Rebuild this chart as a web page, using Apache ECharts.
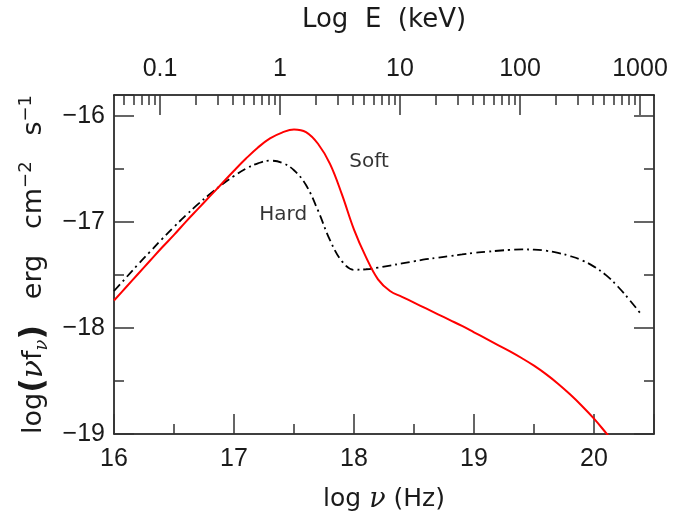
<!DOCTYPE html>
<html>
<head>
<meta charset="utf-8">
<script src="https://cdn.jsdelivr.net/npm/echarts@6/dist/echarts.min.js"></script>
<style>html,body{margin:0;padding:0;background:#fff}#c{width:690px;height:518px}</style>
</head>
<body>
<div id="c"></div>
<script>
// ---- data (log nu [Hz], log nu*f_nu) ----
const softNu = [16.0,16.1,16.2,16.3,16.4,16.5,16.6,16.7,16.8,16.9,17.0,17.1,17.2,17.3,17.4,17.5,17.6,17.7,17.8,17.9,18.0,18.1,18.2,18.3,18.4,18.5,18.6,18.7,18.8,18.9,19.0,19.1,19.2,19.3,19.4,19.5,19.6,19.7,19.8,19.9,20.0,20.1,20.2];
const softF  = [-17.74,-17.615,-17.49,-17.365,-17.24,-17.12,-16.995,-16.875,-16.755,-16.635,-16.515,-16.40,-16.295,-16.21,-16.155,-16.125,-16.15,-16.26,-16.45,-16.74,-17.07,-17.33,-17.54,-17.65,-17.705,-17.76,-17.815,-17.87,-17.925,-17.98,-18.04,-18.10,-18.16,-18.22,-18.285,-18.355,-18.435,-18.525,-18.625,-18.735,-18.855,-18.99,-19.13];
const hardNu = [16.0,16.1,16.2,16.3,16.4,16.5,16.6,16.7,16.8,16.9,17.0,17.1,17.2,17.3,17.4,17.5,17.6,17.7,17.8,17.9,18.0,18.1,18.2,18.3,18.4,18.5,18.6,18.7,18.8,18.9,19.0,19.1,19.2,19.3,19.4,19.5,19.6,19.7,19.8,19.9,20.0,20.1,20.2,20.3,20.4];
const hardF  = [-17.65,-17.525,-17.40,-17.28,-17.16,-17.045,-16.935,-16.83,-16.735,-16.645,-16.565,-16.495,-16.445,-16.42,-16.44,-16.51,-16.65,-16.89,-17.17,-17.37,-17.45,-17.445,-17.43,-17.41,-17.39,-17.37,-17.35,-17.335,-17.32,-17.305,-17.29,-17.28,-17.27,-17.262,-17.258,-17.26,-17.27,-17.29,-17.32,-17.36,-17.42,-17.50,-17.61,-17.74,-17.88];
const labelNames = ['Soft','Hard'];
const labelNu    = [18.125, 17.41];
const labelF     = [-16.43, -16.93];
const topTickEnergies = [0.1, 1, 10, 100, 1000];          // keV
const topTickLabels   = ['0.1', '1', '10', '100', '1000'];
const minorMultipliers = [2,3,4,5,6,7,8,9];
const LOG_KEV_TO_HZ = Math.log10(1.602176634e-16 / 6.62607015e-34); // 17.3836

const X_MIN = 16, X_MAX = 20.5, Y_MIN = -19, Y_MAX = -15.8;

const toNu = e => Math.log10(e) + LOG_KEV_TO_HZ;
const topMajor = topTickEnergies.map(toNu);
const topMinor = [];
[0.01, 0.1, 1, 10, 100, 1000].forEach(d => minorMultipliers.forEach(m => {
  const v = toNu(d * m); if (v > X_MIN && v < X_MAX) topMinor.push(v);
}));

const FONT = 'DejaVu Sans';
const NUMFONT = 'Liberation Sans';
const TXT = '#1a1a1a';
const lineC = '#000';

function baseX(extra) {
  return Object.assign({
    type: 'value', min: X_MIN, max: X_MAX,
    splitLine: {show: false},
    axisLine: {show: true, onZero: false, lineStyle: {color: lineC, width: 1.5}},
  }, extra);
}
function baseY(extra) {
  return Object.assign({
    type: 'value', min: Y_MIN, max: Y_MAX,
    splitLine: {show: false},
    axisLine: {show: true, onZero: false, lineStyle: {color: lineC, width: 1.5}},
  }, extra);
}
const tickStyle = {color: '#333', width: 1.5};

const chart = echarts.init(document.getElementById('c'), null, {renderer: 'canvas'});
chart.setOption({
  animation: false,
  backgroundColor: '#fff',
  grid: {left: 114, right: 36, top: 95, bottom: 81, containLabel: false},
  xAxis: [
    baseX({position: 'bottom', interval: 1,
      axisTick: {inside: true, length: 20, lineStyle: tickStyle},
      axisLabel: {margin: 13, fontSize: 25, fontFamily: NUMFONT, color: TXT,
        formatter: v => Number.isInteger(v) ? String(v) : ''},
      name: '{a|log }{g|ν}{a| (Hz)}', nameLocation: 'middle', nameGap: 52,
      nameTextStyle: {rich: {
        a: {fontSize: 25, fontFamily: FONT, color: TXT},
        g: {fontSize: 27, fontFamily: 'DejaVu Serif', fontStyle: 'italic', color: TXT}
      }}}),
    baseX({position: 'bottom', interval: 0.5, axisLine: {show: false},
      axisTick: {inside: true, length: 10, lineStyle: tickStyle},
      axisLabel: {show: false}}),
    baseX({position: 'top',
      axisTick: {inside: true, length: 20, customValues: topMajor, lineStyle: tickStyle},
      axisLabel: {margin: 13, fontSize: 25, fontFamily: NUMFONT, color: TXT, customValues: topMajor,
        formatter: v => { const i = topMajor.findIndex(t => Math.abs(t - v) < 1e-6); return i >= 0 ? topTickLabels[i] : ''; }},
      name: 'Log  E  (keV)', nameLocation: 'middle', nameGap: 62,
      nameTextStyle: {fontSize: 26, fontFamily: FONT, color: TXT}}),
    baseX({position: 'top', axisLine: {show: false},
      axisTick: {inside: true, length: 10, customValues: topMinor, lineStyle: tickStyle},
      axisLabel: {show: false}})
  ],
  yAxis: [
    baseY({position: 'left', interval: 1,
      axisTick: {inside: true, length: 20, lineStyle: tickStyle},
      axisLabel: {margin: 9, fontSize: 25, fontFamily: NUMFONT, color: TXT,
        formatter: v => Number.isInteger(v) ? '\u2212' + Math.abs(v) : ''},
      name: '{a|log}{p|(}{g|ν}{a|f}{s|ν}{p|)}{a|   erg   cm}{u|−2}{a|   s}{u|−1}',
      nameLocation: 'middle', nameGap: 63,
      nameTextStyle: {rich: {
        a: {fontSize: 27, fontFamily: FONT, color: TXT, lineHeight: 34, verticalAlign: 'middle'},
        p: {fontSize: 32, fontFamily: FONT, color: TXT, lineHeight: 34, verticalAlign: 'middle', fontWeight: 'bold'},
        g: {fontSize: 30, fontFamily: 'DejaVu Serif', fontStyle: 'italic', color: TXT, lineHeight: 34, verticalAlign: 'middle'},
        s: {fontSize: 18, fontFamily: 'DejaVu Serif', fontStyle: 'italic', color: TXT, lineHeight: 14, verticalAlign: 'bottom'},
        u: {fontSize: 18, fontFamily: FONT, color: TXT, lineHeight: 14, verticalAlign: 'top'}
      }}}),
    baseY({position: 'left', interval: 0.5, axisLine: {show: false},
      axisTick: {inside: true, length: 10, lineStyle: tickStyle}, axisLabel: {show: false}}),
    baseY({position: 'right', interval: 1,
      axisTick: {inside: true, length: 20, lineStyle: tickStyle}, axisLabel: {show: false}}),
    baseY({position: 'right', interval: 0.5, axisLine: {show: false},
      axisTick: {inside: true, length: 10, lineStyle: tickStyle}, axisLabel: {show: false}})
  ],
  series: [
    {type: 'line', name: 'Soft', xAxisIndex: 0, yAxisIndex: 0, showSymbol: false, smooth: 0.4,
      data: softNu.map((x, i) => [x, softF[i]]), clip: true,
      lineStyle: {color: '#ff0000', width: 2}, z: 3},
    {type: 'line', name: 'Hard', xAxisIndex: 0, yAxisIndex: 0, showSymbol: false, smooth: 0.4,
      data: hardNu.map((x, i) => [x, hardF[i]]), clip: true,
      lineStyle: {color: '#000', width: 1.8, type: [9, 4, 2, 4]}, z: 2},
    {type: 'scatter', xAxisIndex: 0, yAxisIndex: 0, symbolSize: 0, silent: true,
      data: labelNames.map((n, i) => ({name: n, value: [labelNu[i], labelF[i]]})),
      label: {show: true, position: 'inside', formatter: p => p.name,
        fontSize: 20, fontFamily: FONT, color: '#000'}}
  ]
});
</script>
</body>
</html>
